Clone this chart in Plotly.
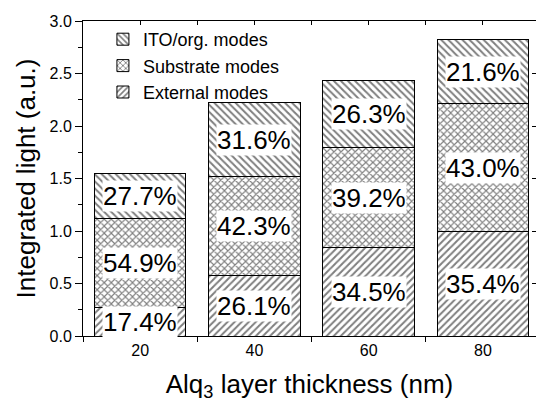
import plotly.graph_objects as go

# ---- data ----
thickness = [20, 40, 60, 80]                      # Alq3 layer thickness (nm)
total_light = [1.55, 2.22, 2.43, 2.82]            # integrated light (a.u.)
pct_external = [17.4, 26.1, 34.5, 35.4]           # %
pct_substrate = [54.9, 42.3, 39.2, 43.0]          # %
pct_ito = [27.7, 31.6, 26.3, 21.6]                # %
series_names = ["External modes", "Substrate modes", "ITO/org. modes"]
series_pcts = [pct_external, pct_substrate, pct_ito]
series_shapes = ["/", "x", "\\"]
y_ticks = [0.0, 0.5, 1.0, 1.5, 2.0, 2.5, 3.0]

FONT = "Liberation Sans, Arial, sans-serif"

fig = go.Figure()

# segment heights from totals and percentages
segments = [[t * p / 100.0 for t, p in zip(total_light, pcts)] for pcts in series_pcts]

for name, seg, shape in zip(series_names, segments, series_shapes):
    fig.add_trace(go.Bar(
        x=thickness, y=seg, name=name, width=16,
        marker=dict(color="white",
                    line=dict(color="black", width=1),
                    pattern=dict(shape=shape, fgcolor="black", bgcolor="white",
                                 size=5, solidity=0.4)),
    ))

# dummy trace to activate the mirrored top/right axes
fig.add_trace(go.Scatter(x=[None], y=[None], xaxis="x2", yaxis="y2",
                         showlegend=False, hoverinfo="skip"))

# percentage labels centred in each segment
annotations = []
for i, x in enumerate(thickness):
    base = 0.0
    for pcts, seg in zip(series_pcts, segments):
        annotations.append(dict(
            x=x, y=base + seg[i] / 2.0, xref="x", yref="y",
            text=f"{pcts[i]:.1f}%", showarrow=False,
            font=dict(family=FONT, size=26, color="black"),
            bgcolor="white", borderpad=0,
        ))
        base += seg[i]

xr = [10, 89.3]
fig.update_layout(
    width=536, height=402,
    margin=dict(l=83, r=0, t=21, b=66),
    paper_bgcolor="white", plot_bgcolor="white",
    barmode="stack",
    font=dict(family=FONT, color="black", size=16),
    annotations=annotations,
    showlegend=True,
    legend=dict(x=0.044, y=1.0, xanchor="left", yanchor="top",
                traceorder="reversed", bgcolor="rgba(0,0,0,0)",
                font=dict(family=FONT, size=18, color="black"),
                tracegroupgap=0),
    xaxis=dict(
        range=xr, tickvals=thickness, ticktext=[str(v) for v in thickness],
        ticks="", showline=True, linecolor="black", linewidth=1,
        showgrid=False, zeroline=False,
        tickfont=dict(family=FONT, size=16, color="black"),
        minor=dict(ticks="outside", tick0=10, dtick=20, ticklen=5,
                   tickcolor="black", showgrid=False),
        title=dict(text="Alq<sub>3</sub> layer thickness (nm)",
                   font=dict(family=FONT, size=26, color="black"), standoff=20),
    ),
    xaxis2=dict(
        range=xr, overlaying="x", side="top", tickvals=thickness,
        showticklabels=False, ticks="inside", ticklen=4, tickcolor="black",
        showline=True, linecolor="black", linewidth=1, showgrid=False, zeroline=False,
        minor=dict(ticks="inside", tick0=10, dtick=20, ticklen=4,
                   tickcolor="black", showgrid=False),
    ),
    yaxis=dict(
        range=[0, 3], tickvals=y_ticks, ticktext=[f"{v:.1f}" for v in y_ticks],
        ticks="outside", ticklen=7, tickcolor="black",
        showline=True, linecolor="black", linewidth=1,
        showgrid=False, zeroline=False,
        tickfont=dict(family=FONT, size=16, color="black"),
        minor=dict(ticks="outside", tick0=0, dtick=0.25, ticklen=4,
                   tickcolor="black", showgrid=False),
        title=dict(text="Integrated light (a.u.)",
                   font=dict(family=FONT, size=26, color="black"), standoff=6),
    ),
    yaxis2=dict(
        range=[0, 3], overlaying="y", side="right", tickvals=y_ticks,
        showticklabels=False, ticks="inside", ticklen=4, tickcolor="black",
        showline=False, showgrid=False, zeroline=False,
    ),
)

fig.write_html("out.html")
